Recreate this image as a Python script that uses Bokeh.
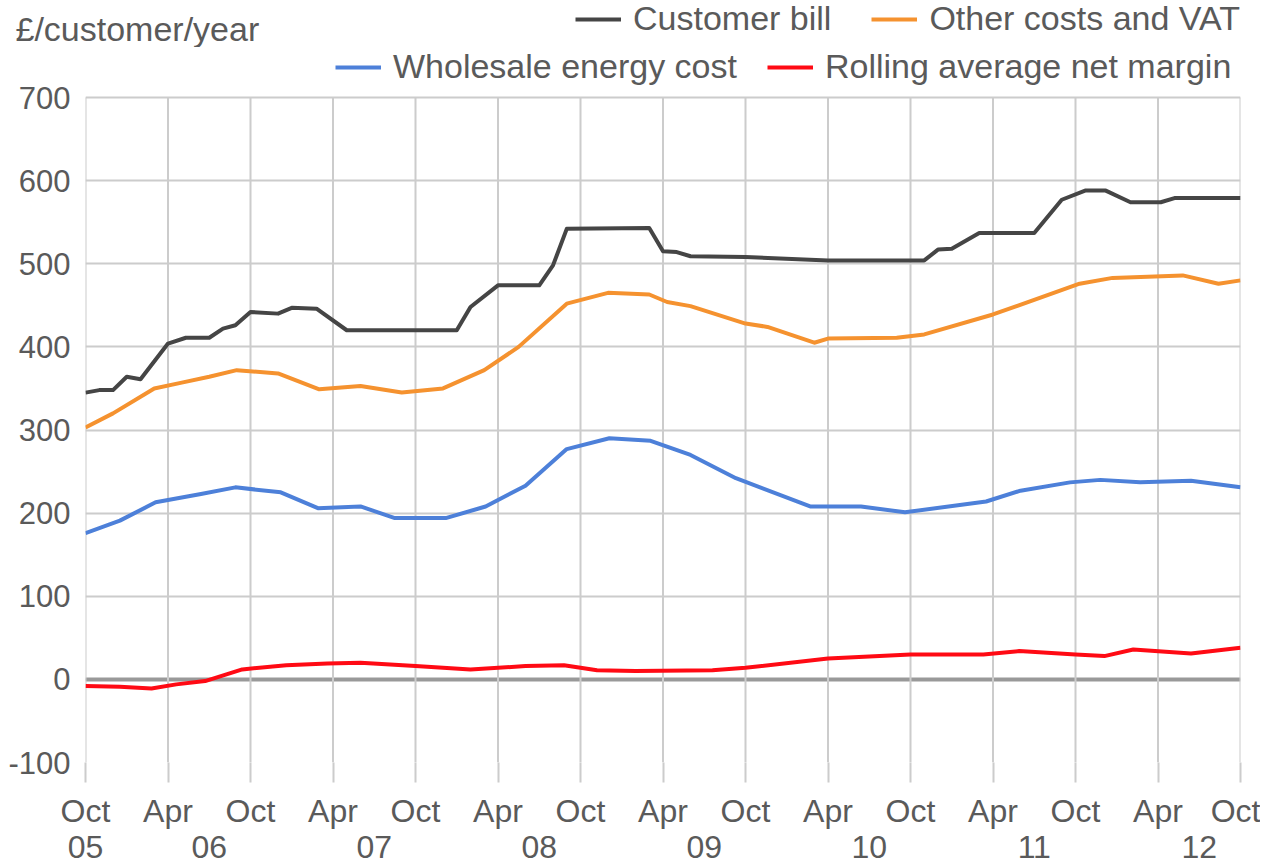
from bokeh.plotting import figure
from bokeh.layouts import column
from bokeh.models import (Range1d, FixedTicker, LinearAxis, Legend, LegendItem,
                          Span, Label)
from bokeh.embed import file_html
from bokeh.resources import INLINE

# months since Oct 2005
bill_m = [0, 1, 2, 3, 4, 6, 7.3, 9, 10, 10.9, 12, 14, 15, 16.8, 19, 27, 28, 30, 33,
          34, 35, 41, 42, 43, 44, 48, 54, 61, 62, 63, 65, 69, 71, 72.7, 74.2, 76,
          78.2, 79.2, 84]
bill_v = [345, 348, 348, 364, 361, 404, 411, 411, 422, 426, 442, 440, 447, 446, 420,
          420, 448, 474, 474, 498, 542, 543, 515, 514, 509, 508, 504, 504, 517, 518,
          537, 537, 577, 588, 588, 574, 574, 579, 579]

other_m = [0, 2, 5, 7, 9, 11, 14, 17, 20, 23, 26, 29, 31.5, 35, 38, 41, 42.3, 44, 48,
           49.6, 53, 54, 59, 61, 66, 72.3, 74.7, 79.8, 82.4, 84]
other_v = [303, 320, 350, 357, 364, 372, 368, 349, 353, 345, 350, 372, 400, 452, 465,
           463, 454, 449, 428, 424, 405, 410, 411, 415, 439, 476, 483, 486, 476, 480]

whole_m = [0, 2.5, 5.1, 8.4, 10.9, 14.2, 16.9, 20, 22.5, 26.2, 29.1, 32, 35, 38.1,
           41.1, 44, 47.3, 52.7, 56.4, 59.6, 65.5, 68, 71.6, 73.8, 76.7, 80.4, 84]
whole_v = [176, 191, 213, 223, 231, 225, 206, 208, 194, 194, 208, 233, 277, 290, 287,
           270, 242, 208, 208, 201, 214, 227, 237, 240, 237, 239, 231]

margin_m = [0, 2.5, 4.8, 6.6, 8.7, 11.4, 14.6, 17.6, 20, 24, 28, 32, 34.8, 37.2, 40,
            45.6, 48, 54, 60, 65.3, 67.9, 72, 74.1, 76.2, 80.4, 84]
margin_v = [-8, -9, -11, -6, -2, 12, 17, 19, 20, 16, 12, 16, 17, 11, 10, 11, 14, 25,
            30, 30, 34, 30, 28, 36, 31, 38]

series_names = ["Customer bill", "Other costs and VAT", "Wholesale energy cost",
                "Rolling average net margin"]
series_colors = ["#454545", "#f5922f", "#4d80d9", "#ff0a14"]

month_ticks = list(range(0, 85, 6))
month_labels = ["Oct" if i % 2 == 0 else "Apr" for i in range(len(month_ticks))]
year_ticks = [0, 9, 21, 33, 45, 57, 69, 81]
year_labels = ["05", "06", "07", "08", "09", "10", "11", "12"]
y_ticks = list(range(-100, 701, 100))
y_labels = [str(v) for v in y_ticks]

FONT = "Liberation Sans"
TXT = "#5a5a5a"
GRID = "#cccccc"
W = 1260
HEAD_H = 47
PX_PER_UNIT = 665 / 800.0          # frame: 800 units over 665 px
FRAME_TOP_PAD = 97 - HEAD_H        # px between main figure top and the 700 line


def make_legend(items, loc, spacing):
    lg = Legend(items=items, location=loc, orientation="horizontal")
    lg.label_text_font = FONT
    lg.label_text_font_size = "34px"
    lg.label_text_color = TXT
    lg.glyph_width = 46
    lg.glyph_height = 36
    lg.label_height = 36
    lg.label_standoff = 12
    lg.spacing = spacing
    lg.padding = 0
    lg.margin = 0
    lg.border_line_color = None
    lg.background_fill_alpha = 0
    return lg


# ---------- header (unit label + first legend row) ----------
h = figure(width=W, height=HEAD_H, output_backend="svg", toolbar_location=None,
           x_range=Range1d(0, W), y_range=Range1d(0, HEAD_H),
           min_border_left=0, min_border_right=0, min_border_top=0,
           min_border_bottom=0, x_axis_location=None, y_axis_location=None)
if "frame_align" in h.properties():
    h.frame_align = False
h.outline_line_color = None
h.xgrid.visible = False
h.ygrid.visible = False
hs = [h.line([-50, -40], [-50, -50], line_color=c, line_width=4)
      for c in series_colors[:2]]
leg1 = make_legend([LegendItem(label=series_names[0], renderers=[hs[0]]),
                    LegendItem(label=series_names[1], renderers=[hs[1]])],
                   (575, 9), 40)
h.add_layout(leg1)
h.add_layout(Label(x=15, y=19, x_units="screen", y_units="screen",
                   text="£/customer/year", text_font=FONT, text_font_size="34px",
                   text_color=TXT, text_baseline="middle", text_align="left"))

# ---------- main chart ----------
y_top = y_ticks[-1] + FRAME_TOP_PAD / PX_PER_UNIT
p = figure(width=W, height=762 + 101 - HEAD_H, output_backend="svg",
           toolbar_location=None,
           x_range=Range1d(month_ticks[0], month_ticks[-1]),
           y_range=Range1d(y_ticks[0], y_top),
           min_border_left=85, min_border_right=20, min_border_top=0,
           min_border_bottom=101, x_axis_location=None, y_axis_location=None)
if "frame_align" in p.properties():
    p.frame_align = False
p.outline_line_color = None

xa = LinearAxis(ticker=FixedTicker(ticks=month_ticks),
                major_label_overrides={t: l for t, l in zip(month_ticks, month_labels)})
xa.axis_line_color = None
xa.major_tick_out = 20
xa.major_tick_in = 0
xa.major_tick_line_color = GRID
xa.major_tick_line_width = 2
xa.minor_tick_line_color = None
xa.major_label_standoff = 10
xa.major_label_text_font = FONT
xa.major_label_text_font_size = "32px"
xa.major_label_text_color = TXT
p.add_layout(xa, "below")

xa2 = LinearAxis(ticker=FixedTicker(ticks=year_ticks),
                 major_label_overrides={t: l for t, l in zip(year_ticks, year_labels)})
xa2.axis_line_color = None
xa2.major_tick_line_color = None
xa2.minor_tick_line_color = None
xa2.major_label_standoff = -2
xa2.major_label_text_font = FONT
xa2.major_label_text_font_size = "32px"
xa2.major_label_text_color = TXT
p.add_layout(xa2, "below")

ya = LinearAxis(ticker=FixedTicker(ticks=y_ticks),
                major_label_overrides={t: l for t, l in zip(y_ticks, y_labels)})
ya.axis_line_color = None
ya.major_tick_line_color = None
ya.minor_tick_line_color = None
ya.major_label_standoff = 9
ya.major_label_text_font = FONT
ya.major_label_text_font_size = "31px"
ya.major_label_text_color = TXT
p.add_layout(ya, "left")

# horizontal grid from the y ticks; vertical grid lines stop at the top tick
p.xgrid.visible = False
p.ygrid.ticker = FixedTicker(ticks=y_ticks)
p.ygrid.grid_line_color = GRID
p.ygrid.grid_line_width = 2
p.segment(x0=month_ticks, y0=[y_ticks[0]] * len(month_ticks),
          x1=month_ticks, y1=[y_ticks[-1]] * len(month_ticks),
          line_color=GRID, line_width=2)

p.add_layout(Span(location=0, dimension="width", line_color="#999999", line_width=4,
                  level="underlay"))

rs = []
for xs, ys, c in zip([bill_m, other_m, whole_m, margin_m],
                     [bill_v, other_v, whole_v, margin_v], series_colors):
    rs.append(p.line(xs, ys, line_color=c, line_width=4, line_join="round"))

leg2 = make_legend([LegendItem(label=series_names[2], renderers=[rs[2]]),
                    LegendItem(label=series_names[3], renderers=[rs[3]])],
                   (250, 676), 30)
p.add_layout(leg2)

open("out.html", "w").write(file_html(column(h, p, spacing=0), INLINE))
